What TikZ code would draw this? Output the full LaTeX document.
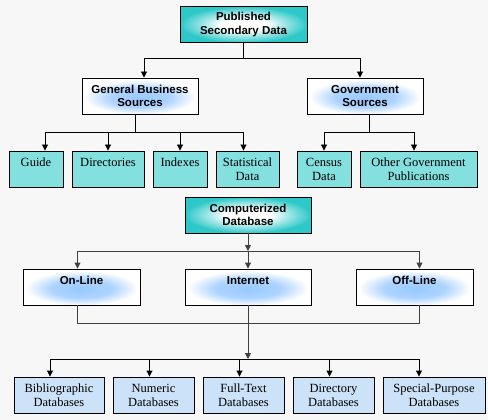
\documentclass[tikz,border=0pt]{standalone}
\usepackage{fontspec}
\setmainfont{Liberation Serif}
\setsansfont{Liberation Sans}
\usetikzlibrary{arrows.meta}
\definecolor{bg}{HTML}{F7F7F7}
\definecolor{tealc}{HTML}{2EC8C8}
\definecolor{glow}{HTML}{99C9FF}
\definecolor{cyanpat}{HTML}{84DFDF}
\definecolor{bluepat}{HTML}{CCE2F8}
\definecolor{linegray}{HTML}{404040}
\pgfdeclareradialshading{glowshade}{\pgfpoint{0bp}{-3bp}}{color(0bp)=(glow); color(13bp)=(glow!80!white); color(24bp)=(white); color(50bp)=(white)}
\pgfdeclareradialshading{tealshade}{\pgfpoint{0bp}{0bp}}{color(0bp)=(white); color(9bp)=(white); color(16bp)=(tealc!45!white); color(25bp)=(tealc); color(50bp)=(tealc)}
\begin{document}
\begin{tikzpicture}[x=1pt,y=-1pt,
 box/.style={draw=black,line width=0.9pt,minimum height=36pt,inner sep=0pt,align=center},
 headbox/.style={box,shading=tealshade,font=\sffamily\bfseries\fontsize{11.5}{13.5}\selectfont},
 subbox/.style={box,shading=glowshade,font=\sffamily\bfseries\fontsize{11.5}{13.5}\selectfont},
 cyanbox/.style={box,fill=cyanpat,font=\fontsize{12.5}{14}\selectfont},
 bluebox/.style={box,fill=bluepat,font=\fontsize{12.5}{14}\selectfont},
 topline/.style={text height=9pt,text depth=14pt},
 conn/.style={line width=0.9pt,draw=black},
 arr/.style={conn,-{Triangle[width=6pt,length=6pt]}},
 garr/.style={arr,draw=linegray},
 gconn/.style={conn,draw=linegray},
]
\fill[bg] (0,0) rectangle (488,420);
\useasboundingbox (0,0) rectangle (488,420);

% nodes
\node[headbox,minimum width=127pt] (pub) at (243.5,24.5) {Published\\Secondary Data};
\node[subbox,minimum width=116pt] (gb) at (140,96) {General Business\\Sources};
\node[subbox,minimum width=116pt] (gov) at (365,96) {Government\\Sources};

\node[cyanbox,topline,minimum width=54pt] (guide) at (36,169) {Guide};
\node[cyanbox,topline,minimum width=72pt] (dir) at (108,169) {Directories};
\node[cyanbox,topline,minimum width=54pt] (idx) at (180,169) {Indexes};
\node[cyanbox,minimum width=63pt] (stat) at (247.5,169) {Statistical\\Data};
\node[cyanbox,minimum width=54pt] (census) at (324,169) {Census\\Data};
\node[cyanbox,minimum width=117pt] (other) at (418.5,169) {Other Government\\Publications};

\node[headbox,minimum width=126pt] (comp) at (248,215) {Computerized\\Database};
\node[subbox,topline,minimum width=117pt] (online) at (81.5,287) {On-Line};
\node[subbox,topline,minimum width=126pt] (internet) at (248,287) {Internet};
\node[subbox,topline,minimum width=117pt] (offline) at (414.5,287) {Off-Line};

\node[bluebox,minimum width=90pt] (bib) at (59,395) {Bibliographic\\Databases};
\node[bluebox,minimum width=81pt] (num) at (153.5,395) {Numeric\\Databases};
\node[bluebox,minimum width=81pt] (full) at (243.5,395) {Full-Text\\Databases};
\node[bluebox,minimum width=81pt] (dird) at (333.5,395) {Directory\\Databases};
\node[bluebox,minimum width=102pt] (spec) at (434,395) {Special-Purpose\\Databases};

% connectors, upper part
\coordinate (j1) at (243.5,58);
\draw[conn] (pub.south) -- (j1);
\draw[arr] (j1) -| ([xshift=4pt]gb.north);
\draw[arr] (j1) -| ([xshift=-5pt]gov.north);

\coordinate (j2) at (135,132);
\draw[conn] ([xshift=-5pt]gb.south) -- (j2);
\draw[arr] (j2) -| ([xshift=9pt]guide.north);
\draw[arr] (j2) -| (dir.north);
\draw[arr] (j2) -| (idx.north);
\draw[arr] (j2) -| ([xshift=-4pt]stat.north);

\coordinate (j3) at (369,132);
\draw[conn] ([xshift=4pt]gov.south) -- (j3);
\draw[arr] (j3) -| (census.north);
\draw[arr] (j3) -| ([xshift=-4.5pt]other.north);

% connectors, lower part
\coordinate (j4) at (248,251);
\draw[garr] (comp.south) -- (j4);
\draw[garr] (j4) -| ([xshift=-4pt]online.north);
\draw[garr] (j4) -- (internet.north);
\draw[garr] (j4) -| ([xshift=5pt]offline.north);

\coordinate (j5) at (248,323);
\draw[gconn] ([xshift=-4pt]online.south) |- (j5);
\draw[gconn] ([xshift=5pt]offline.south) |- (j5);
\draw[gconn] (internet.south) -- (j5);

\coordinate (j6) at (248,359);
\draw[garr] (j5) -- (j6);
\draw[arr] (j6) -| ([xshift=-9pt]bib.north);
\draw[arr] (j6) -| ([xshift=-4pt]num.north);
\draw[arr] (j6) -| ([xshift=-4pt]full.north);
\draw[arr] (j6) -| ([xshift=-4pt]dird.north);
\draw[arr] (j6) -| ([xshift=-15pt]spec.north);
\end{tikzpicture}
\end{document}
